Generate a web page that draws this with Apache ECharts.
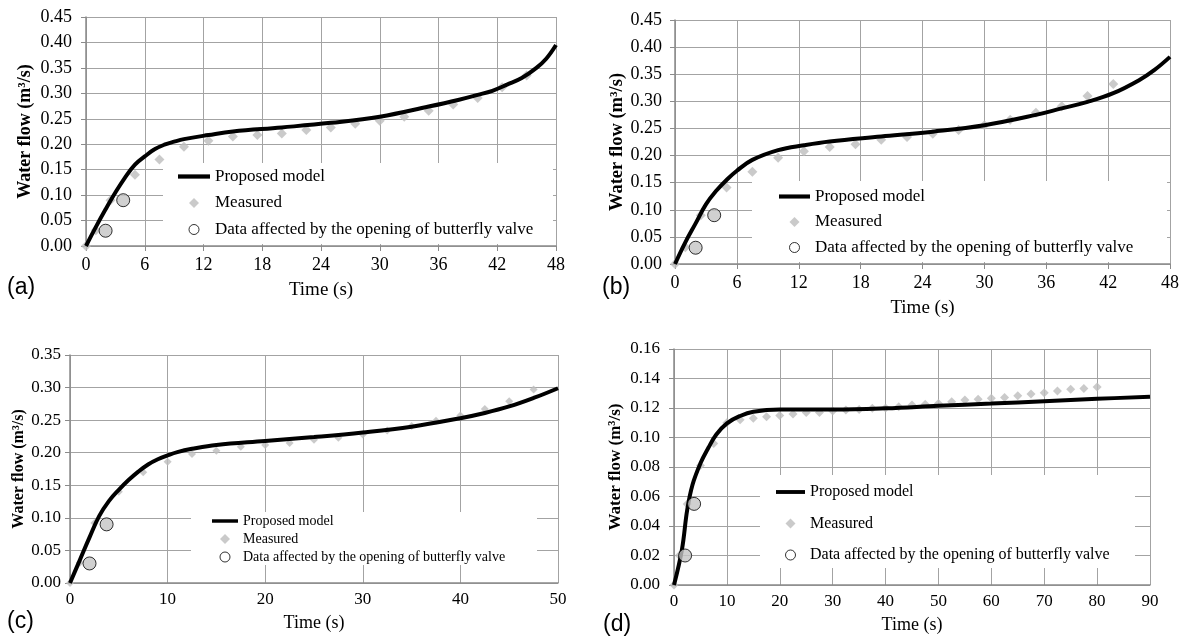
<!DOCTYPE html>
<html>
<head>
<meta charset="utf-8">
<script src="https://cdn.jsdelivr.net/npm/echarts@6/dist/echarts.min.js"></script>
<style>
  html, body { margin: 0; background: #fff; }
  #chart { width: 1183px; height: 639px; }
</style>
</head>
<body>
<div id="chart"></div>
<script>
/* global echarts */
const MODEL = 'Proposed model';
const MEASURED = 'Measured';
const VALVE = 'Data affected by the opening of butterfly valve';

// (a)
const measTimeA = [0, 1, 2.5, 5, 7.5, 10, 12.5, 15, 17.5, 20, 22.5, 25, 27.5, 30, 32.5, 35, 37.5, 40, 42.5, 45];
const measuredA = [0, 0.031, 0.090, 0.140, 0.170, 0.195, 0.207, 0.215, 0.218, 0.221, 0.228, 0.233, 0.240, 0.246, 0.254, 0.266, 0.278, 0.291, 0.312, 0.335];
const modelTimeA = [0, 1, 2, 3, 4, 5, 6, 7, 8, 9, 10, 12.5, 15, 20, 25, 30, 35, 38, 40, 41.5, 43, 44.5, 46, 47, 48];
const modelA = [0, 0.037, 0.072, 0.105, 0.135, 0.160, 0.176, 0.190, 0.199, 0.205, 0.210, 0.218, 0.225, 0.233, 0.242, 0.254, 0.274, 0.287, 0.297, 0.305, 0.317, 0.330, 0.350, 0.368, 0.395];
const valveTimeA = [2, 3.8];
const valveA = [0.03, 0.09];

// (b)
const measTimeB = [0, 1, 2.5, 5, 7.5, 10, 12.5, 15, 17.5, 20, 22.5, 25, 27.5, 30, 32.5, 35, 37.5, 40, 42.5];
const measuredB = [0, 0.031, 0.090, 0.141, 0.170, 0.196, 0.208, 0.216, 0.221, 0.229, 0.234, 0.240, 0.247, 0.256, 0.266, 0.279, 0.291, 0.310, 0.332];
const modelTimeB = [0, 1, 2, 3, 4, 5, 6, 7.5, 10, 12.5, 15, 20, 25, 30, 35, 37.5, 40, 42.5, 45, 46.5, 48];
const modelB = [0, 0.040, 0.075, 0.110, 0.135, 0.155, 0.172, 0.192, 0.210, 0.219, 0.226, 0.235, 0.244, 0.256, 0.275, 0.287, 0.299, 0.315, 0.339, 0.358, 0.382];
const valveTimeB = [2, 3.8];
const valveB = [0.03, 0.09];

// (c)
const measTimeC = [0, 1, 2.5, 5, 7.5, 10, 12.5, 15, 17.5, 20, 22.5, 25, 27.5, 30, 32.5, 35, 37.5, 40, 42.5, 45, 47.5];
const measuredC = [0, 0.031, 0.092, 0.140, 0.170, 0.186, 0.198, 0.203, 0.209, 0.212, 0.215, 0.220, 0.223, 0.228, 0.234, 0.241, 0.249, 0.257, 0.267, 0.279, 0.297];
const modelTimeC = [0, 1, 2, 3, 4, 5, 6, 7, 8, 9, 10, 11, 12.5, 15, 20, 25, 30, 35, 40, 42.5, 45, 47.5, 50];
const modelC = [0, 0.035, 0.070, 0.103, 0.126, 0.143, 0.158, 0.171, 0.182, 0.190, 0.196, 0.201, 0.206, 0.212, 0.218, 0.224, 0.231, 0.240, 0.253, 0.261, 0.271, 0.284, 0.299];
const valveTimeC = [2, 3.75];
const valveC = [0.03, 0.09];

// (d)
const measTimeD = [0, 1, 2.5, 5, 7.5, 10, 12.5, 15, 17.5, 20, 22.5, 25, 27.5, 30, 32.5, 35, 37.5, 40, 42.5, 45, 47.5, 50, 52.5, 55, 57.5, 60, 62.5, 65, 67.5, 70, 72.5, 75, 77.5, 80];
const measuredD = [0, 0.020, 0.055, 0.081, 0.096, 0.110, 0.112, 0.113, 0.114, 0.115, 0.116, 0.117, 0.117, 0.118, 0.1186, 0.119, 0.1198, 0.120, 0.1209, 0.122, 0.1225, 0.123, 0.1243, 0.1254, 0.126, 0.1266, 0.1272, 0.1283, 0.1295, 0.1304, 0.1315, 0.1327, 0.1333, 0.1342];
const modelTimeD = [0, 1.5, 2.5, 3.5, 5, 6.5, 8, 10, 12.5, 15, 20, 30, 40, 50, 60, 70, 80, 90];
const modelD = [0, 0.024, 0.051, 0.068, 0.0825, 0.093, 0.102, 0.1096, 0.1146, 0.1175, 0.119, 0.119, 0.1198, 0.1215, 0.123, 0.1246, 0.1262, 0.1277];
const valveTimeD = [2.1, 3.8];
const valveD = [0.02, 0.055];

// axis ranges
const xMaxes = [48, 48, 50, 90];
const xSteps = [6, 6, 10, 10];
const yMaxes = [0.45, 0.45, 0.35, 0.16];
const ySteps = [0.05, 0.05, 0.05, 0.02];

const panels = [
    { tag: '(a)', mt: measTimeA, m: measuredA, pt: modelTimeA, p: modelA, vt: valveTimeA, v: valveA },
    { tag: '(b)', mt: measTimeB, m: measuredB, pt: modelTimeB, p: modelB, vt: valveTimeB, v: valveB },
    { tag: '(c)', mt: measTimeC, m: measuredC, pt: modelTimeC, p: modelC, vt: valveTimeC, v: valveC },
    { tag: '(d)', mt: measTimeD, m: measuredD, pt: modelTimeD, p: modelD, vt: valveTimeD, v: valveD }
];

// layout of each panel (pixels)
const layout = [
    { grid: [86, 17, 470, 229], tick: 18, yName: 18, yGap: 52, xGap: 35, xMargin: 10, yMargin: 14, xTick: true,
      box: [163, 163, 390, 81], leg: [178, 168, 32, 9.5, 17], diamond: 10, tagPos: [7, 288] },
    { grid: [675, 20, 495, 244], tick: 18, yName: 18.5, yGap: 43, xGap: 35, xMargin: 10, yMargin: 13, xTick: true,
      box: [752, 181, 415, 81], leg: [779, 188, 31, 8.5, 17], diamond: 10, tagPos: [602, 288] },
    { grid: [70, 355, 488, 228], tick: 17, yName: 16, yGap: 39, xGap: 31, xMargin: 8, yMargin: 9, xTick: false,
      box: [191, 512, 346, 53], leg: [212, 514, 26, 4, 14], diamond: 8, tagPos: [7, 622] },
    { grid: [674, 349, 476, 236], tick: 17, yName: 17, yGap: 50, xGap: 31, xMargin: 8, yMargin: 14, xTick: false,
      box: [760, 475, 375, 93], leg: [776, 484, 29, 15.5, 16], diamond: 9, tagPos: [603, 625] }
];

const serif = '"Liberation Serif", "Times New Roman", serif';
const gridColor = '#a3a3a3';

const option = {
    animation: false,
    backgroundColor: '#fff',
    grid: [], xAxis: [], yAxis: [], series: [], legend: [], graphic: []
};

panels.forEach((pn, i) => {
    const L = layout[i];
    option.grid.push({ left: L.grid[0], top: L.grid[1], width: L.grid[2], height: L.grid[3] });
    option.xAxis.push({
        type: 'value', gridIndex: i, min: 0, max: xMaxes[i], interval: xSteps[i],
        name: 'Time (s)', nameLocation: 'middle', nameGap: L.xGap,
        nameTextStyle: { fontFamily: serif, fontSize: L.tick + 1, color: '#000' },
        axisLine: { lineStyle: { color: '#8a8a8a', width: 1.5 } },
        axisTick: { show: L.xTick, length: 5, lineStyle: { color: '#8a8a8a' } },
        axisLabel: { fontFamily: serif, fontSize: L.tick, color: '#000', margin: L.xMargin },
        splitLine: { lineStyle: { color: gridColor, width: 1 } }
    });
    option.yAxis.push({
        type: 'value', gridIndex: i, min: 0, max: yMaxes[i], interval: ySteps[i],
        name: 'Water flow (m³/s)', nameLocation: 'middle', nameGap: L.yGap,
        nameTextStyle: { fontFamily: serif, fontSize: L.yName, fontWeight: 'bold', color: '#000' },
        axisLine: { show: true, lineStyle: { color: '#8a8a8a', width: 1.5 } },
        axisTick: { show: true, length: 5, lineStyle: { color: '#8a8a8a' } },
        axisLabel: { fontFamily: serif, fontSize: L.tick, color: '#000', margin: L.yMargin,
                     formatter: (v) => v.toFixed(2) },
        splitLine: { lineStyle: { color: gridColor, width: 1 } }
    });
    option.series.push({
        name: MEASURED, type: 'scatter', xAxisIndex: i, yAxisIndex: i,
        symbol: 'diamond', symbolSize: L.diamond, z: 2,
        itemStyle: { color: '#bdbdbd' },
        data: pn.mt.map((t, k) => [t, pn.m[k]])
    });
    option.series.push({
        name: MODEL, type: 'line', xAxisIndex: i, yAxisIndex: i,
        smooth: 0.4, symbol: 'none', z: 3,
        lineStyle: { color: '#000', width: 4 },
        itemStyle: { color: '#000' },
        data: pn.pt.map((t, k) => [t, pn.p[k]])
    });
    option.series.push({
        name: VALVE, type: 'scatter', xAxisIndex: i, yAxisIndex: i,
        symbol: 'circle', symbolSize: 13, z: 4,
        itemStyle: { color: '#c4c4c4', borderColor: '#000', borderWidth: 1 },
        data: pn.vt.map((t, k) => [t, pn.v[k]])
    });
    option.legend.push({
        orient: 'vertical', left: L.leg[0], top: L.leg[1], padding: 0,
        itemWidth: L.leg[2], itemHeight: 10, itemGap: L.leg[3], selectedMode: false, z: 6,
        symbolKeepAspect: true,
        textStyle: { fontFamily: serif, fontSize: L.leg[4], color: '#000' },
        data: [
            { name: MODEL, icon: 'path://M0,0H30V4H0Z', itemStyle: { color: '#000', borderWidth: 0 } },
            { name: MEASURED, icon: 'path://M5,0L10,5L5,10L0,5Z', itemStyle: { color: '#bdbdbd', borderWidth: 0 } },
            { name: VALVE, icon: 'circle', itemStyle: { color: '#fff', borderColor: '#000', borderWidth: 1 } }
        ]
    });
    option.graphic.push({
        type: 'rect', z: 1,
        shape: { x: L.box[0], y: L.box[1], width: L.box[2], height: L.box[3] },
        style: { fill: '#fff' }
    });
    option.graphic.push({
        type: 'text', z: 1, x: L.tagPos[0], y: L.tagPos[1],
        style: { text: pn.tag, font: '23px "Liberation Sans", Arial, sans-serif', fill: '#000', verticalAlign: 'middle' }
    });
});

const chart = echarts.init(document.getElementById('chart'));
chart.setOption(option);
window.addEventListener('resize', () => chart.resize());
</script>
</body>
</html>
